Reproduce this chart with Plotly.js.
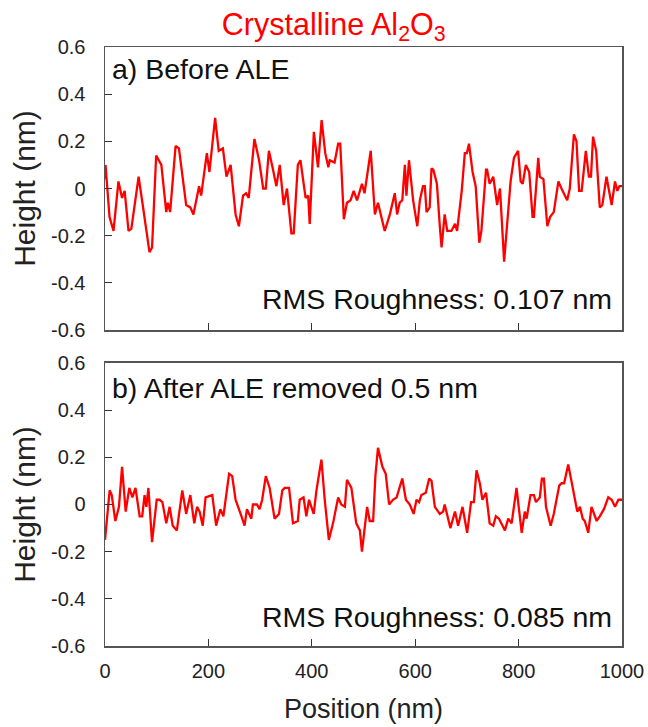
<!DOCTYPE html>
<html>
<head>
<meta charset="utf-8">
<script src="https://cdn.plot.ly/plotly-3.0.1.min.js"></script>
<style>html,body{margin:0;padding:0;background:#fff;}#chart{width:648px;height:727px;}</style>
</head>
<body>
<div id="chart"></div>
<script>
// Panel a) Before ALE
const posA = [0,1,8.7,16.5,26,33,38,45.5,51,65,73,80,86,91,99,109,118.5,121.6,126,136.5,143,157,165,171,182,186,197,202,213,220,228,235,243,252.6,259,267,273,278,289,298,306,311,317,324,331.5,338,345.6,352,360.5,365,373,378,388,393,396,404,412,419,426,432,434.6,444,451,455,462,468,475,481,487.5,497,502,514,522,528,535,541,551,560.5,565,570,575,580,583,588,596,604,609,615,618.6,622,628,631.5,635,642,647.6,651,657,662,670,677,681,690,696,700,704,711,717,724,728,737,739,744,751,758.5,764,772,784.5,791,799,804,808,814,820.5,827,829.6,838,841,848,855.6,861,868,877,885,894,899,907,912,917,922,930,936,940,944,950,957,962,970,980,986.5,991,995,1000];
const hA = [0.04,0.10,-0.12,-0.18,0.03,-0.04,-0.01,-0.18,-0.17,0.05,-0.07,-0.19,-0.27,-0.25,0.14,0.10,-0.10,-0.06,-0.10,0.18,0.17,-0.07,-0.08,-0.11,0.01,-0.03,0.15,0.07,0.30,0.16,0.17,0.05,0.10,-0.11,-0.16,-0.03,-0.02,-0.04,0.21,0.12,0.0,0.0,0.16,0.09,0.01,0.10,-0.07,0.0,-0.19,-0.19,0.10,0.12,-0.04,-0.03,-0.15,0.24,0.09,0.29,0.15,0.09,0.12,0.11,0.19,0.19,-0.13,-0.06,-0.05,-0.01,-0.05,0.02,-0.02,0.16,-0.11,-0.06,-0.12,-0.18,-0.11,-0.02,-0.11,-0.06,-0.05,0.10,-0.03,0.12,-0.05,-0.16,-0.05,0.01,0.01,-0.10,-0.08,0.085,0.08,0.02,-0.16,-0.25,-0.11,-0.18,-0.18,-0.15,-0.18,-0.01,0.15,0.15,0.19,0.07,0.01,-0.23,-0.18,0.08,0.08,0.02,0.05,-0.07,0.0,-0.31,0.03,0.13,0.16,0.03,0.02,0.10,0.07,-0.12,-0.12,0.13,0.05,0.04,-0.16,-0.12,-0.10,0.03,-0.01,-0.05,0.0,0.23,0.20,-0.01,-0.01,0.16,0.05,0.05,0.22,0.16,-0.08,-0.07,0.05,-0.07,0.03,-0.01,0.01,0.01];

// Panel b) After ALE removed 0.5 nm
const posB = [0,9,13,20,27,33,40,47,53,59,67,72,76.5,80,84,91,100,105.5,111,118.5,125,131,139,149.5,157,165,172.7,178,183,189,194.6,207.5,215,223,229,240,246,252.6,264,270,274.5,283,286,294,299,304,311,318.5,328,336.5,343,347.5,356,363.6,373,376.6,384,389.5,394.6,403.7,409,418.6,425,433,441,451,457,464,468,476.6,486,493,497,507,512,518.6,523,528,536.6,543,549.5,557,564,569,575,582,589.5,597,602.5,607.5,612,620.5,627,631.5,638,647.6,654,657,668,677,683,691.5,700.5,708,713.5,718.6,725,730,737,744,751,756,762,769,773.5,780,786.5,796,806,812,815.5,823,829.6,833.5,841,845,849,853,862,868,878.6,883,888,896,902.6,909,913.5,918.7,924,928,934.7,941,951,957,965,973.5,980,986.5,993,1000];
const hB = [-0.15,0.06,0.04,-0.07,-0.01,0.16,-0.03,0.07,0.03,0.07,-0.05,-0.05,0.04,-0.01,0.07,-0.16,0.02,0.02,0.01,-0.08,-0.01,-0.09,-0.11,0.06,-0.04,0.04,-0.08,-0.01,-0.03,-0.09,0.03,0.04,-0.09,-0.02,-0.05,0.13,0.12,0.02,-0.05,-0.09,-0.02,-0.06,0.0,0.0,-0.02,0.02,0.12,0.07,-0.06,-0.04,0.06,0.07,0.07,-0.08,-0.07,0.02,0.03,-0.05,0.02,-0.04,0.06,0.19,0.02,-0.15,-0.08,0.03,0.0,-0.01,0.105,0.07,-0.08,-0.11,-0.20,-0.01,-0.07,-0.07,0.12,0.24,0.16,0.13,0.0,0.02,0.03,0.07,0.11,0.02,0.0,-0.04,0.02,0.01,0.04,0.05,0.11,0.10,-0.01,-0.04,-0.03,0.0,-0.10,-0.03,-0.09,-0.01,-0.12,0.01,0.01,0.145,0.09,0.02,0.05,-0.08,-0.09,-0.05,-0.06,-0.09,-0.11,-0.06,-0.08,0.07,-0.12,-0.03,-0.06,0.04,0.04,0.01,0.03,0.11,0.11,-0.01,-0.09,-0.04,0.08,0.09,0.09,0.17,0.09,0.01,-0.03,-0.01,-0.06,-0.07,-0.12,-0.01,-0.07,-0.05,-0.02,0.03,0.02,-0.01,0.02,0.02];

const yTickVals = [-0.6,-0.4,-0.2,0,0.2,0.4,0.6];
const yTickText = ['-0.6','-0.4','-0.2','0','0.2','0.4','0.6'];
const xTickVals = [0,200,400,600,800,1000];
const xTickText = ['0','200','400','600','800','1000'];
const titleText = 'Crystalline Al<sub>2</sub>O<sub>3</sub>';
const labelA = 'a) Before ALE';
const labelB = 'b) After ALE removed 0.5 nm';
const rmsA = 'RMS Roughness: 0.107 nm';
const rmsB = 'RMS Roughness: 0.085 nm';

const red = '#ff0000';
const fam = 'Liberation Sans, Arial, sans-serif';
const lineStyle = {color: red, width: 2.3};
const traces = [
  {x: posA, y: hA, type: 'scatter', mode: 'lines', line: lineStyle, xaxis: 'x', yaxis: 'y', hoverinfo: 'skip'},
  {x: posB, y: hB, type: 'scatter', mode: 'lines', line: lineStyle, xaxis: 'x2', yaxis: 'y2', hoverinfo: 'skip'}
];

const axFont = {family: fam, size: 20, color: '#222'};
const common = {
  showline: true, mirror: true, linecolor: '#555', linewidth: 1.5,
  ticks: 'inside', ticklen: 7, tickcolor: '#333', tickwidth: 1.2,
  showgrid: false, zeroline: false, tickfont: axFont
};
const yax = Object.assign({}, common, {
  range: [-0.6, 0.6], tickmode: 'array', tickvals: yTickVals, ticktext: yTickText,
  ticklabelstandoff: 14,
  title: {text: 'Height (nm)', font: {family: fam, size: 30, color: '#222'}, standoff: 6}
});
const xaxTop = Object.assign({}, common, {
  range: [0, 1000], tickmode: 'array', tickvals: xTickVals, ticktext: xTickText, showticklabels: false
});
const xaxBot = Object.assign({}, common, {
  range: [0, 1000], tickmode: 'array', tickvals: xTickVals, ticktext: xTickText,
  ticklabelstandoff: 6,
  title: {text: 'Position (nm)', font: {family: fam, size: 27, color: '#222'}, standoff: 18}
});

const annFont = {family: fam, size: 28.5, color: '#111'};
const layout = {
  width: 648, height: 727,
  margin: {l: 105, r: 26, t: 47, b: 81},
  paper_bgcolor: '#fff', plot_bgcolor: '#fff',
  showlegend: false,
  title: {text: titleText, x: 0.515, xref: 'container', xanchor: 'center', y: 0.967, yref: 'container', yanchor: 'middle',
          font: {family: fam, size: 30.5, color: red}},
  xaxis: Object.assign({}, xaxTop, {anchor: 'y', domain: [0, 1]}),
  yaxis: Object.assign({}, yax, {anchor: 'x', domain: [0.5275, 1]}),
  xaxis2: Object.assign({}, xaxBot, {anchor: 'y2', domain: [0, 1]}),
  yaxis2: Object.assign({}, yax, {anchor: 'x2', domain: [0, 0.4725]}),
  annotations: [
    {text: labelA, xref: 'x domain', yref: 'y domain', x: 0.01, y: 0.985, xanchor: 'left', yanchor: 'top', showarrow: false, font: annFont},
    {text: rmsA, xref: 'x domain', yref: 'y domain', x: 0.985, y: 0.045, xanchor: 'right', yanchor: 'bottom', showarrow: false, font: annFont},
    {text: labelB, xref: 'x2 domain', yref: 'y2 domain', x: 0.01, y: 0.975, xanchor: 'left', yanchor: 'top', showarrow: false, font: annFont},
    {text: rmsB, xref: 'x2 domain', yref: 'y2 domain', x: 0.985, y: 0.04, xanchor: 'right', yanchor: 'bottom', showarrow: false, font: annFont}
  ]
};
Plotly.newPlot('chart', traces, layout, {staticPlot: true, displayModeBar: false});
</script>
</body>
</html>
